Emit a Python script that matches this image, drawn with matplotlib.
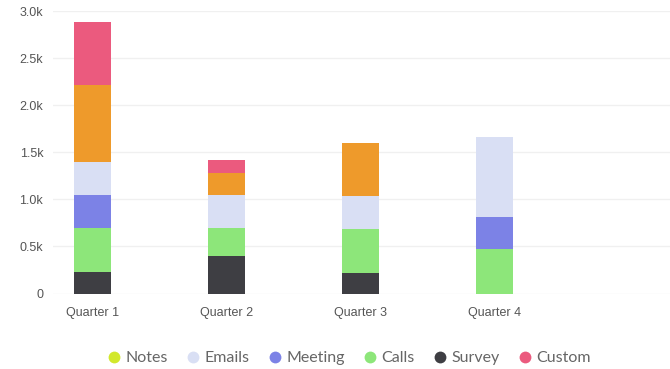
import numpy as np
import matplotlib
matplotlib.use("Agg")
import matplotlib.pyplot as plt
from matplotlib.lines import Line2D
from matplotlib.ticker import FuncFormatter

# activity counts per quarter
quarters = ["Quarter 1", "Quarter 2", "Quarter 3", "Quarter 4"]
survey = [230, 400, 220, 0]
calls = [470, 300, 470, 470]
meeting = [350, 0, 0, 345]
emails = [350, 350, 350, 850]
notes = [0, 0, 0, 0]
tasks = [810, 225, 560, 0]
custom = [670, 145, 0, 0]

series = [
    ("Survey", survey, "#3e3e43"),
    ("Calls", calls, "#8de67a"),
    ("Meeting", meeting, "#7c82e6"),
    ("Emails", emails, "#d9dff4"),
    ("Notes", notes, "#d2e82c"),
    ("Tasks", tasks, "#ee9a2b"),
    ("Custom", custom, "#eb5a7e"),
]
legend_order = ["Notes", "Emails", "Meeting", "Calls", "Survey", "Custom"]

fig = plt.figure(figsize=(6.7, 3.69), dpi=100)
ax = fig.add_axes([0.079, 0.2046, 0.921, 0.7654])

x = np.arange(len(quarters))
bottom = np.zeros(len(quarters))
for name, vals, col in series:
    vals = np.array(vals, dtype=float)
    ax.bar(x, vals, width=0.276, bottom=bottom, color=col, linewidth=0, zorder=3)
    bottom += vals

ax.set_xlim(-0.293, 4.308)
ax.set_ylim(0, 3000)
ax.set_yticks(np.arange(0, 3001, 500))
ax.yaxis.set_major_formatter(FuncFormatter(lambda v, p: "0" if v == 0 else "%.1fk" % (v / 1000)))
ax.set_xticks(x)
ax.set_xticklabels(quarters)

ax.grid(axis="y", color="#f0f0f0", linewidth=1, zorder=0)
for s in ax.spines.values():
    s.set_visible(False)
ax.tick_params(length=0, colors="#555555", labelsize=9)
ax.tick_params(axis="y", pad=7)
ax.tick_params(axis="x", pad=10)
for lab in ax.get_xticklabels() + ax.get_yticklabels():
    lab.set_family("Liberation Sans")

colors = {name: col for name, _, col in series}
handles = [Line2D([], [], marker="o", linestyle="", markersize=8.5,
                  markerfacecolor=colors[n], markeredgewidth=0) for n in legend_order]
fig.legend(handles, legend_order, loc="center", bbox_to_anchor=(349 / 670, 1 - 358 / 369),
           ncol=6, frameon=False, handlelength=0.9, handletextpad=0.25, columnspacing=1.15,
           prop={"family": "Lato", "size": 11.5}, labelcolor="#666666")

fig.savefig("out.png", dpi=100)
